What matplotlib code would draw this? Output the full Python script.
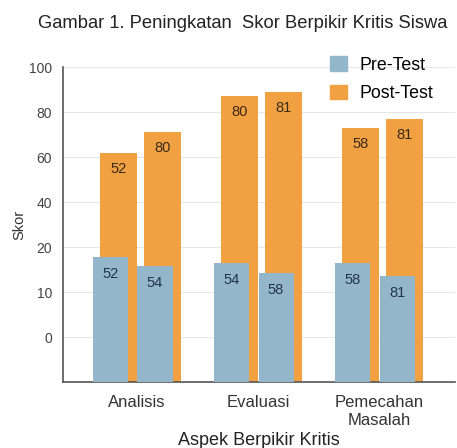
import numpy as np
import matplotlib
matplotlib.use("Agg")
import matplotlib.pyplot as plt
from matplotlib.patches import Patch

plt.rcParams['font.family'] = ['Liberation Sans', 'DejaVu Sans']

categories = ["Analisis", "Evaluasi", "Pemecahan\nMasalah"]
pre_a = [17.8, 16.4, 16.4]     # first blue bar per group
pre_b = [15.8, 14.2, 13.6]     # second blue bar per group
post_a = [62, 87, 73]          # first orange bar per group
post_b = [71, 89, 77]          # second orange bar per group
pre_a_lbl = ["52", "54", "58"]
pre_b_lbl = ["54", "58", "81"]
post_a_lbl = ["52", "80", "58"]
post_b_lbl = ["80", "81", "81"]
yticks = [0, 10, 20, 40, 60, 80, 100]

BASE = -10
BLUE = "#93b6ca"
ORANGE = "#f1a142"


def fwd(v):
    v = np.asarray(v, dtype=float)
    return np.where(v < 20, v / 10.0, v / 20.0 + 1)


def inv(p):
    p = np.asarray(p, dtype=float)
    return np.where(p < 2, p * 10.0, (p - 1) * 20.0)


fig = plt.figure(figsize=(4.57, 4.48), dpi=100)
ax = fig.add_axes([0.138, 0.147, 0.858, 0.703])
ax.set_yscale('function', functions=(fwd, inv))
ax.set_ylim(BASE, 100)
ax.set_xlim(-0.61, 2.63)

x = np.arange(len(categories))
wo = 0.305
wb = 0.29
oo = [-0.15, 0.21]
ob = [-0.22, 0.15]

ax.set_axisbelow(True)
ax.yaxis.grid(True, color="#e6e6e6", linewidth=0.8)

for off, vals, lbls in [(oo[0], post_a, post_a_lbl), (oo[1], post_b, post_b_lbl)]:
    bars = ax.bar(x + off, np.array(vals) - BASE, bottom=BASE, width=wo,
                  color=ORANGE, zorder=2)
    for b, v, t in zip(bars, vals, lbls):
        ax.annotate(t, (b.get_x() + b.get_width() / 2, v), xytext=(0, -11.5),
                    textcoords='offset points', ha='center', va='center',
                    fontsize=10.5, color="#3a2a1a", zorder=5)

for off, vals, lbls in [(ob[0], pre_a, pre_a_lbl), (ob[1], pre_b, pre_b_lbl)]:
    bars = ax.bar(x + off, np.array(vals) - BASE, bottom=BASE, width=wb,
                  color=BLUE, zorder=3)
    for b, v, t in zip(bars, vals, lbls):
        ax.annotate(t, (b.get_x() + b.get_width() / 2, v), xytext=(0, -12),
                    textcoords='offset points', ha='center', va='center',
                    fontsize=10.5, color="#22364a", zorder=5)

ax.set_yticks(yticks)
ax.set_yticklabels([str(t) for t in yticks])
ax.yaxis.set_minor_locator(matplotlib.ticker.NullLocator())
ax.set_xticks(x)
ax.set_xticklabels(categories, fontsize=12, color="#333333", linespacing=1.3)
ax.tick_params(axis='y', length=0, labelsize=10, colors="#444444", pad=8)
ax.tick_params(axis='x', length=0, pad=9)

for s in ['top', 'right']:
    ax.spines[s].set_visible(False)
for s in ['left', 'bottom']:
    ax.spines[s].set_color("#555555")
    ax.spines[s].set_linewidth(1.2)

ax.set_ylabel("Skor", fontsize=10.5, color="#333333", labelpad=2)
ax.set_xlabel("Aspek Berpikir Kritis", fontsize=13, color="#222222", labelpad=3)

handles = [Patch(color=BLUE, label="Pre-Test"), Patch(color=ORANGE, label="Post-Test")]
ax.legend(handles=handles, loc='upper right', bbox_to_anchor=(0.985, 1.085),
          frameon=False, fontsize=12.8, handlelength=0.95, handleheight=0.9,
          labelspacing=0.6, handletextpad=0.7)

fig.text(0.53, 0.947, "Gambar 1. Peningkatan  Skor Berpikir Kritis Siswa",
         ha='center', va='center', fontsize=13.2, color="#222222")

fig.savefig("out.png", dpi=100)
